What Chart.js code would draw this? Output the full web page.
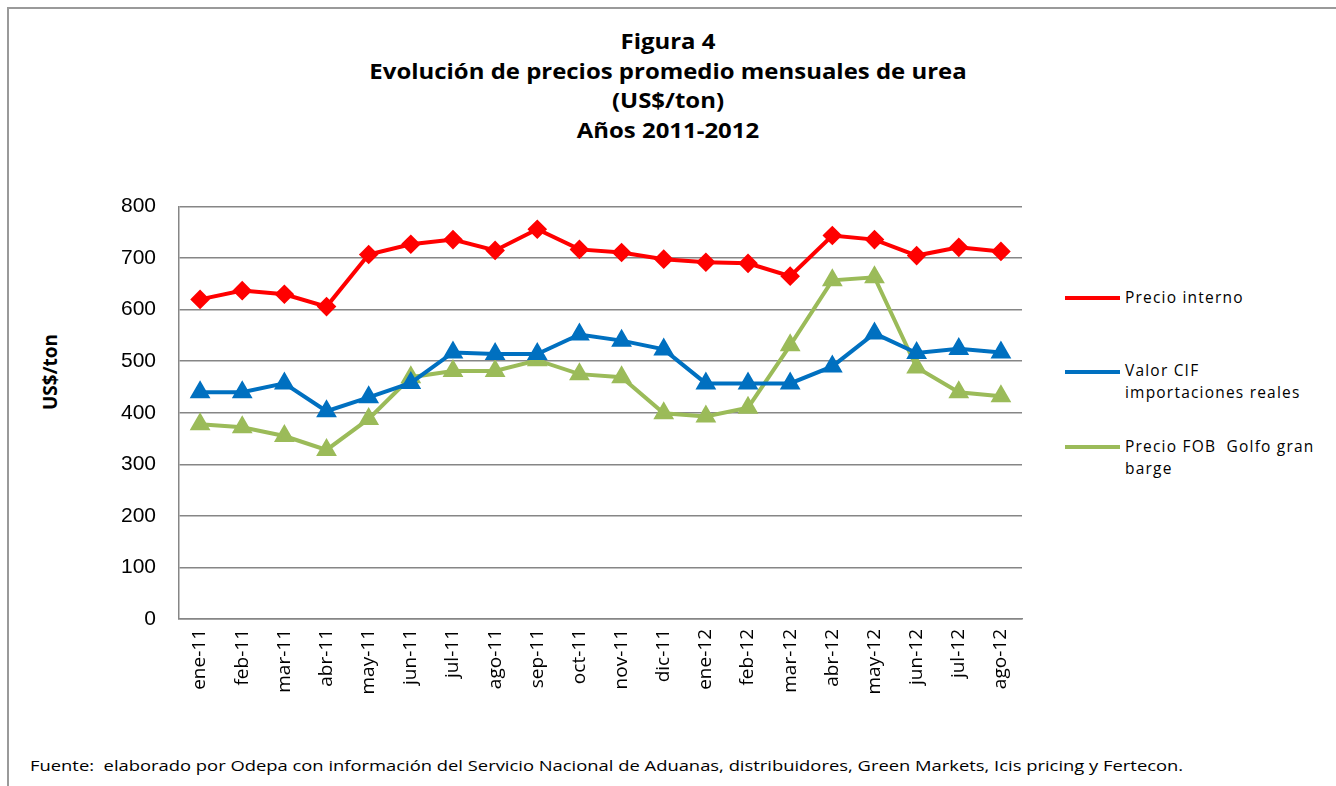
<!DOCTYPE html>
<html>
<head>
<meta charset="utf-8">
<script src="https://cdn.jsdelivr.net/npm/chart.js@4.4.0/dist/chart.umd.min.js"></script>
<style>
  html, body { margin: 0; padding: 0; background: #fff; }
  body { width: 1336px; height: 786px; position: relative; overflow: hidden; font-family: "Open Sans", sans-serif; }
  .frame { position: absolute; left: 7px; top: 7px; width: 1400px; height: 900px; border-top: 2px solid #9a9a9a; border-left: 2px solid #9a9a9a; }
  .title { position: absolute; left: 0; width: 1336px; top: 27px; text-align: center; font-weight: bold; font-size: 21px; line-height: 29.7px; color: #000; transform: scaleX(1.14); transform-origin: 668px 0; }
  .ytitle { position: absolute; left: 50px; top: 372px; transform: translate(-50%, -50%) rotate(-90deg); font-weight: bold; font-size: 19px; white-space: nowrap; }
  .legend { position: absolute; left: 1065px; font-size: 15.5px; line-height: 22px; color: #000; }
  .legend .ln { position: absolute; left: 0; width: 55px; height: 4px; }
  .legend .tx { position: absolute; left: 60px; white-space: nowrap; letter-spacing: 1.2px; }
  .foot { position: absolute; left: 30px; top: 755px; font-size: 15px; white-space: nowrap; transform: scaleX(1.225); transform-origin: 0 0; }
  #wrap { position: absolute; left: 0; top: 171px; width: 1040px; height: 529px; }
</style>
</head>
<body>
<div class="frame"></div>
<div class="title">Figura 4<br>Evolución de precios promedio mensuales de urea<br>(US$/ton)<br>Años 2011-2012</div>
<div class="ytitle">US$/ton</div>
<div id="wrap"><canvas id="urea"></canvas></div>
<div id="legend"></div>
<div class="foot">Fuente:&nbsp; elaborado por Odepa con información del Servicio Nacional de Aduanas, distribuidores, Green Markets, Icis pricing y Fertecon.</div>
<script>
// Months shown on the x axis
const months = ["ene-11", "feb-11", "mar-11", "abr-11", "may-11", "jun-11", "jul-11", "ago-11", "sep-11", "oct-11",
  "nov-11", "dic-11", "ene-12", "feb-12", "mar-12", "abr-12", "may-12", "jun-12", "jul-12", "ago-12"];

// US$/ton
const precioInterno = [620, 637, 630, 606, 707, 727, 736, 715, 756, 717, 711, 698, 692, 690, 665, 744, 736, 705, 721, 713];
const valorCIF = [440, 440, 457, 403, 430, 458, 517, 514, 514, 552, 540, 523, 457, 457, 457, 490, 554, 516, 524, 517];
const precioFOB = [378, 372, 355, 328, 388, 469, 481, 481, 502, 475, 469, 399, 393, 410, 531, 657, 663, 488, 440, 432];

const yTicks = [0, 100, 200, 300, 400, 500, 600, 700, 800];

// lineY / textY: legend line and first text line, page pixels
const series = [
  { label: ["Precio interno"], data: precioInterno, color: "#ff0000", style: "rectRot", r: 7, lineY: 298, textY: 298 },
  { label: ["Valor CIF", "importaciones reales"], data: valorCIF, color: "#0070c0", style: "triangle", r: 8, lineY: 372, textY: 371 },
  { label: ["Precio FOB  Golfo gran", "barge"], data: precioFOB, color: "#9bbb59", style: "triangle", r: 8, lineY: 447, textY: 447 }
];

// legend on the right, built by hand so the labels can wrap
const legend = document.getElementById("legend");
series.forEach(s => {
  const box = document.createElement("div");
  box.className = "legend";
  box.style.top = "0px";
  box.innerHTML = '<div class="ln" style="top:' + (s.lineY - 2) + 'px;background:' + s.color + '"></div>' +
    '<div class="tx" style="top:' + (s.textY - 12) + 'px">' + s.label.join("<br>").replace(/  /g, "&nbsp; ") + '</div>';
  legend.appendChild(box);
});

new Chart(document.getElementById("urea"), {
  type: "line",
  data: {
    labels: months,
    datasets: series.map(s => ({
      label: s.label.join(" "),
      data: s.data,
      borderColor: s.color,
      backgroundColor: s.color,
      borderWidth: 4,
      pointStyle: s.style,
      pointRadius: s.r,
      pointHoverRadius: s.r,
      tension: 0
    }))
  },
  options: {
    responsive: true,
    maintainAspectRatio: false,
    animation: false,
    layout: { padding: { top: 8, right: 18, left: 0, bottom: 0 } },
    plugins: {
      legend: { display: false },
      tooltip: { enabled: false }
    },
    scales: {
      x: {
        offset: true,
        grid: { display: false, drawTicks: false },
        border: { color: "#868686", width: 1.5 },
        ticks: {
          minRotation: 90, maxRotation: 90, autoSkip: false, padding: 10,
          color: "#000", font: { family: "Open Sans", size: 19 }
        },
        afterFit: scale => { scale.height = 81; }
      },
      y: {
        min: 0, max: 800,
        afterBuildTicks: scale => { scale.ticks = yTicks.map(v => ({ value: v })); },
        grid: { color: "#868686", lineWidth: 1.5, drawTicks: false },
        border: { color: "#868686", width: 1.5 },
        ticks: { padding: 23, color: "#000", font: { family: "Liberation Sans", size: 21 } },
        afterFit: scale => { scale.width = 179; }
      }
    }
  }
});
</script>
</body>
</html>
